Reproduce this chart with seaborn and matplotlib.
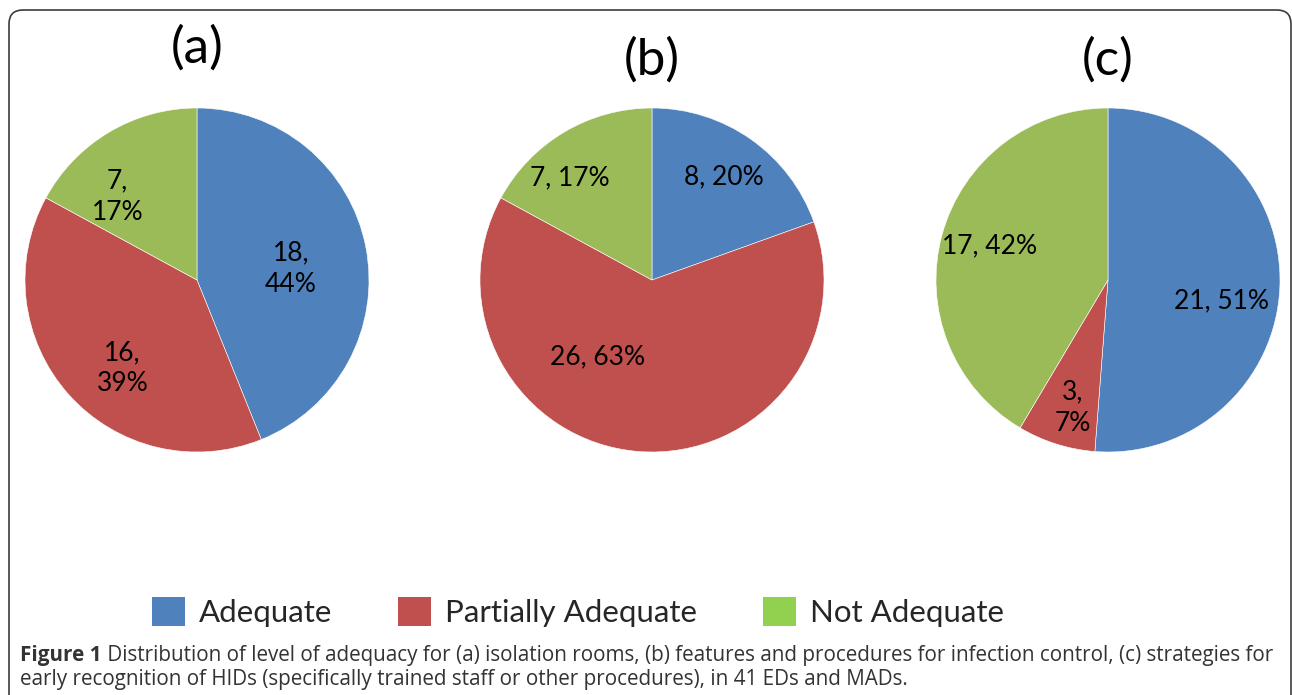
#!/usr/bin/env python3
import numpy as np
import matplotlib
matplotlib.use('Agg')
import matplotlib.pyplot as plt
from matplotlib.patches import Patch, FancyBboxPatch
from matplotlib.transforms import IdentityTransform
import seaborn as sns

# data
categories = ['Adequate', 'Partially Adequate', 'Not Adequate']
panel_titles = ['(a)', '(b)', '(c)']
counts_a = [18, 16, 7]
counts_b = [8, 26, 7]
counts_c = [21, 3, 17]
pct_a = [44, 39, 17]
pct_b = [20, 63, 17]
pct_c = [51, 7, 42]

slice_colors = ['#4F81BD', '#C0504D', '#9BBB59']
legend_colors = ['#4F81BD', '#C0504D', '#92D050']

caption_bold = 'Figure 1'
caption_1 = (' Distribution of level of adequacy for (a) isolation rooms, (b) features and '
             'procedures for infection control, (c) strategies for')
caption_2 = 'early recognition of HIDs (specifically trained staff or other procedures), in 41 EDs and MADs.'

W, H = 1292, 695
sns.set_theme(style='white')
plt.rcParams['font.family'] = ['Lato', 'DejaVu Sans']

fig = plt.figure(figsize=(W / 100, H / 100), dpi=100)
fig.patch.set_facecolor('white')

# rounded frame, bottom edge falls outside the picture
frame = FancyBboxPatch((9, -60), 1282, H - 10 + 60,
                       boxstyle='round,pad=0,rounding_size=14',
                       transform=IdentityTransform(), facecolor='none',
                       edgecolor='#3c3c3c', linewidth=1.2)
fig.patches.append(frame)

panels = [
    (counts_a, pct_a, 197, 48, ['{c},\n{p}%'] * 3, [0.55, 0.67, 0.67]),
    (counts_b, pct_b, 652, 60, ['{c}, {p}%'] * 3, [0.73, 0.55, 0.76]),
    (counts_c, pct_c, 1108, 60, ['{c}, {p}%', '{c},\n{p}%', '{c}, {p}%'], [0.67, 0.77, 0.715]),
]
# nudges (degrees) to mimic where the spreadsheet put its labels
angle_nudge = [[-4, 8, 13], [0, -31, 8], [-8, 2, -1]]

cy, r = 280, 172
for i, (counts, pcts, cx, ty, fmts, dists) in enumerate(panels):
    ax = fig.add_axes([(cx - r) / W, (H - cy - r) / H, 2 * r / W, 2 * r / H])
    wedges, _ = ax.pie(counts, colors=slice_colors, startangle=90, counterclock=False,
                       radius=1, wedgeprops=dict(edgecolor='white', linewidth=0.4))
    ax.set_xlim(-1, 1)
    ax.set_ylim(-1, 1)
    ax.set_aspect('equal')
    ax.axis('off')
    for j, w in enumerate(wedges):
        ang = np.deg2rad((w.theta1 + w.theta2) / 2 + angle_nudge[i][j])
        x, y = dists[j] * np.cos(ang), dists[j] * np.sin(ang)
        ax.text(x, y, fmts[j].format(c=counts[j], p=pcts[j]), ha='center', va='center',
                fontsize=19, color='black', linespacing=1.3)
    fig.text(cx / W, 1 - ty / H, panel_titles[i], ha='center', va='center',
             fontsize=37, color='black')

handles = [Patch(facecolor=c, edgecolor='none') for c in legend_colors]
fig.legend(handles, categories, loc='center', bbox_to_anchor=(578 / W, 1 - 612 / H),
           ncol=3, frameon=False, fontsize=22.5, handlelength=1.05, handleheight=1.05,
           handletextpad=0.45, columnspacing=2.1)

# caption, sized so the first line spans the frame like the reference
cap_font = ['Open Sans', 'DejaVu Sans']
renderer = fig.canvas.get_renderer()
probe_b = fig.text(0, 0, caption_bold, fontsize=10, fontweight='bold', family=cap_font)
probe_r = fig.text(0, 0, caption_1, fontsize=10, family=cap_font)
w10 = probe_b.get_window_extent(renderer).width + probe_r.get_window_extent(renderer).width
probe_b.remove()
probe_r.remove()
cap_size = 10 * 1258 / w10

tb = fig.text(20 / W, 1 - 656 / H, caption_bold, fontsize=cap_size, fontweight='bold',
              color='#333333', family=cap_font, va='center', ha='left')
bb = tb.get_window_extent(renderer)
fig.text(bb.x1 / W, 1 - 656 / H, caption_1, fontsize=cap_size, color='#333333',
         family=cap_font, va='center', ha='left')
fig.text(20 / W, 1 - 680 / H, caption_2, fontsize=cap_size, color='#333333',
         family=cap_font, va='center', ha='left')

fig.savefig('out.png', dpi=100)
